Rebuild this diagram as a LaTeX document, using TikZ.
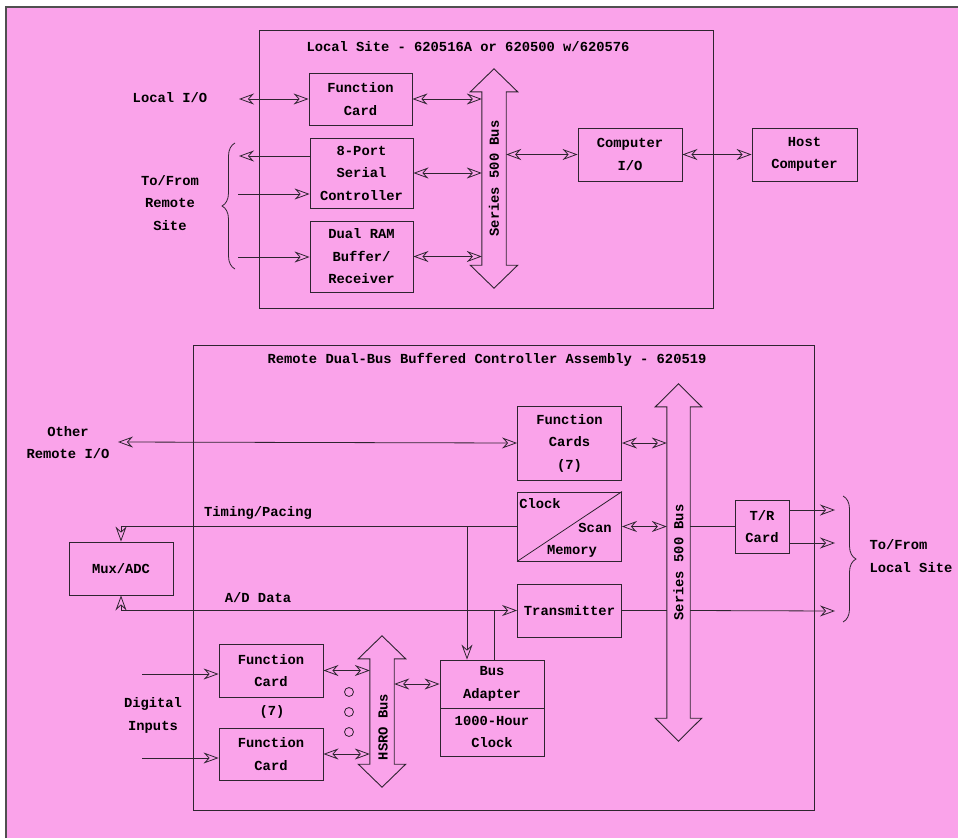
\documentclass[tikz,border=0pt]{standalone}
\usepackage{fontspec}
\setmainfont{Liberation Mono}
\usetikzlibrary{arrows.meta,decorations.pathreplacing}
\definecolor{rosa}{HTML}{FAA3EA}
\definecolor{tinte}{HTML}{2E2430}
\definecolor{rand}{HTML}{505050}
\tikzset{
  karte/.style={draw=tinte,line width=0.9pt,minimum width=104pt,minimum height=53pt,inner sep=0pt,align=center},
  feld/.style={draw=tinte,line width=0.9pt},
  leit/.style={tinte,line width=0.8pt},
  pfeil/.style={-{Stealth[open,length=15pt,width=11pt,inset=5pt]},tinte,line width=0.8pt},
  dpfeil/.style={{Stealth[open,length=15pt,width=11pt,inset=5pt]}-{Stealth[open,length=15pt,width=11pt,inset=5pt]},tinte,line width=0.8pt},
  bus/.style={draw=none,inner sep=0pt,minimum width=24pt},
  klammer/.style={decorate,decoration={brace,amplitude=13pt},tinte,line width=0.8pt},
}
\newcommand{\busform}[1]{%
  \draw[feld] (#1.north west) -- ([xshift=-11.5pt]#1.north west) -- ([yshift=23pt]#1.north)
    -- ([xshift=11.5pt]#1.north east) -- (#1.north east) -- (#1.south east)
    -- ([xshift=11.5pt]#1.south east) -- ([yshift=-23pt]#1.south)
    -- ([xshift=-11.5pt]#1.south west) -- (#1.south west) -- cycle;}

\begin{document}
\begin{tikzpicture}[x=1pt,y=-1pt,font=\bfseries\fontsize{13.8}{22.5}\selectfont]
  \useasboundingbox (0,0) rectangle (958,838);
  \fill[rosa] (6,7) rectangle (958,838);
  \draw[rand,line width=1.3pt] (6,838) -- (6,7) -- (958,7);

  % local site
  \draw[feld] (259,30) rectangle (713,308);
  \node (ltitel) at (468,47) {Local Site - 620516A or 620500 w/620576};
  \node[karte,minimum width=103pt,minimum height=52pt] (lfc) at (360.5,99) {Function\\Card};
  \node[karte,minimum width=103pt,minimum height=70pt] (lser) at (361.5,173) {8-Port\\Serial\\Controller};
  \node[karte,minimum width=103pt,minimum height=71pt] (lram) at (361.5,256.5) {Dual RAM\\Buffer/\\Receiver};
  \node[bus,minimum height=173pt] (lbus) at (494,178.5) {};
  \busform{lbus}
  \node[rotate=90] (lbuslbl) at (lbus.center) {Series 500 Bus};
  \node[karte] (lcio) at (630,154.5) {Computer\\I/O};
  \node[karte,minimum width=105pt] (host) at (804.5,154.5) {Host\\Computer};

  \node (lio) at (170,98) {Local I/O};
  \node[align=center] (rsite) at (170,203) {To/From\\Remote\\Site};
  \coordinate (lioend) at (239,99);
  \coordinate (rs1) at (239,156);
  \coordinate (rs2) at (238,194);
  \coordinate (rs3) at (238,257);
  \draw[dpfeil] (lioend) -- (lfc.west);
  \draw[pfeil] (rs1 -| lser.west) -- (rs1);
  \draw[pfeil] (rs2) -- (rs2 -| lser.west);
  \draw[pfeil] (rs3) -- (rs3 -| lram.west);
  \draw[klammer] (235,269) -- (235,143);
  \draw[dpfeil] (lfc.east) -- (lfc.east -| lbus.west);
  \draw[dpfeil] (lser.east) -- (lser.east -| lbus.west);
  \draw[dpfeil] (lram.east) -- (lram.east -| lbus.west);
  \draw[dpfeil] (lcio.west -| lbus.east) -- (lcio.west);
  \draw[dpfeil] (lcio.east) -- (host.west);

  % remote site
  \draw[feld] (193,345) rectangle (814,810);
  \node (rtitel) at (487,360) {Remote Dual-Bus Buffered Controller Assembly - 620519};
  \node[karte,minimum height=74pt] (rfc) at (569.5,443) {Function\\Cards\\(7)};
  \node[karte,minimum height=69pt] (clk) at (569.5,526.5) {};
  \draw[leit] (clk.south west) -- (clk.north east);
  \node (clk1) at (540,504) {Clock};
  \node (clk2) at (595,528) {Scan};
  \node (clk3) at (572,551) {Memory};
  \node[karte] (tx) at (569.5,610.5) {Transmitter};
  \node[bus,minimum width=23pt,minimum height=311pt] (rbus) at (678.5,562.5) {};
  \busform{rbus}
  \node[rotate=90] (rbuslbl) at (rbus.center) {Series 500 Bus};
  \node[karte,minimum width=54pt] (trc) at (762,526.5) {T/R\\Card};
  \node[karte] (mux) at (121,568.5) {Mux/ADC};

  \node[karte] (fc1) at (271,670.5) {Function\\Card};
  \node[karte,minimum height=52pt] (fc2) at (271,754) {Function\\Card};
  \node (sieben) at (272,712) {(7)};
  \foreach \y in {692,712,732}
    \draw[leit] (349,\y) circle (4.5pt);
  \node[bus,minimum height=105pt] (hbus) at (382,711.5) {};
  \busform{hbus}
  \node[rotate=90] (hbuslbl) at (383,727) {HSRO Bus};
  \node[karte,minimum height=48pt] (bad) at (492,684) {Bus\\Adapter};
  \node[karte,minimum height=48pt] (badc) at (492,732) {1000-Hour\\Clock};

  \node[align=center] (ori) at (68,442.5) {Other\\Remote I/O};
  \node (tplbl) at (258,513) {Timing/Pacing};
  \node (adlbl) at (258,598) {A/D Data};
  \node[align=center] (dig) at (153,715.5) {Digital\\Inputs};
  \node[align=left,anchor=west] (lsite) at (866,556) {To/From\\Local Site};
  \coordinate (oriend) at (118,442);
  \coordinate (tpab) at (467,527);
  \coordinate (adab) at (494,611);
  \coordinate (ls1) at (835,510);
  \coordinate (ls2) at (835,543);
  \coordinate (ls3) at (835,611);
  \coordinate (di1) at (142,674);
  \coordinate (di2) at (142,758);

  \draw[dpfeil] (oriend) -- (rfc.west);
  \draw[dpfeil] (rfc.east) -- (rfc.east -| rbus.west);
  \draw[dpfeil] (clk.east) -- (clk.east -| rbus.west);
  \draw[leit] (tx.east) -- (tx.east -| rbus.west);
  \draw[pfeil] (clk.west) -| (mux.north);
  \draw[pfeil] (tpab) -- (tpab |- bad.north);
  \draw[dpfeil] (mux.south) |- (tx.west);
  \draw[leit] (adab) -- (adab |- bad.north);
  \draw[leit] (trc.west -| rbus.east) -- (trc.west);
  \draw[pfeil] (trc.east |- ls1) -- (ls1);
  \draw[pfeil] (trc.east |- ls2) -- (ls2);
  \draw[pfeil] (tx.east -| rbus.east) -- (ls3);
  \draw[klammer] (843,496) -- (843,622);
  \draw[pfeil] (di1) -- (di1 -| fc1.west);
  \draw[pfeil] (di2) -- (di2 -| fc2.west);
  \draw[dpfeil] (fc1.east) -- (fc1.east -| hbus.west);
  \draw[dpfeil] (fc2.east) -- (fc2.east -| hbus.west);
  \draw[dpfeil] (bad.west -| hbus.east) -- (bad.west);
\end{tikzpicture}
\end{document}
